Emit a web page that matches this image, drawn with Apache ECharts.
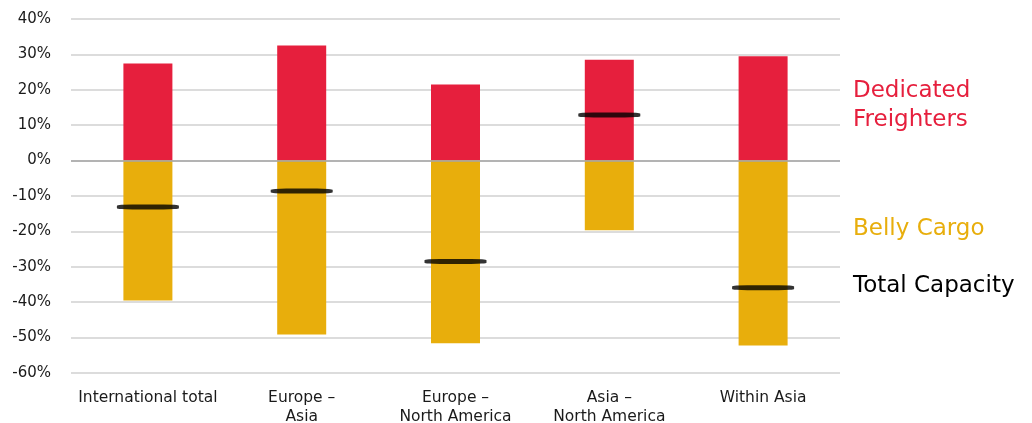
<!DOCTYPE html>
<html>
<head>
<meta charset="utf-8">
<script src="https://cdn.jsdelivr.net/npm/echarts@6/dist/echarts.min.js"></script>
<style>
  html, body { margin: 0; padding: 0; background: #ffffff; }
  #chart { width: 1032px; height: 423px; }
</style>
</head>
<body>
<div id="chart"></div>
<script>
// categories and values (in %)
const categories = ['International total', 'Europe –\nAsia', 'Europe –\nNorth America', 'Asia –\nNorth America', 'Within Asia'];
const freighters = [27.4, 32.5, 21.5, 28.5, 29.5];
const belly = [-39.5, -49.1, -51.6, -19.7, -52.2];
const totalCapacity = [-13.1, -8.6, -28.5, 12.9, -35.9];

const RED = '#E61F3D';
const YELLOW = '#E8AE0C';
const FONT = 'DejaVu Sans';

let myChart = echarts.init(document.getElementById('chart'));
myChart.setOption({
  animation: false,
  grid: { left: 71, right: 192, top: 19, bottom: 50, outerBoundsMode: 'none' },
  xAxis: {
    type: 'category',
    data: categories,
    axisLine: { show: false },
    axisTick: { show: false },
    axisLabel: { interval: 0, color: '#1a1a1a', fontFamily: FONT, fontSize: 15.5, lineHeight: 19, margin: 15 }
  },
  yAxis: {
    type: 'value',
    min: -60,
    max: 40,
    interval: 10,
    axisLine: { show: false },
    axisTick: { show: false },
    axisLabel: { color: '#1a1a1a', fontFamily: FONT, fontSize: 15, margin: 20, formatter: '{value}%' },
    splitLine: { lineStyle: { color: '#dcdcdc', width: 2 } }
  },
  series: [
    {
      name: 'Dedicated Freighters',
      type: 'bar',
      stack: 'cap',
      data: freighters,
      barWidth: 49,
      itemStyle: { color: RED },
      markLine: {
        silent: true,
        symbol: 'none',
        label: { show: false },
        lineStyle: { color: '#a6a6a6', width: 1.5, type: 'solid' },
        data: [{ yAxis: 0 }]
      }
    },
    {
      name: 'Belly Cargo',
      type: 'bar',
      stack: 'cap',
      data: belly,
      barWidth: 49,
      itemStyle: { color: YELLOW }
    },
    {
      name: 'Total Capacity',
      type: 'scatter',
      data: totalCapacity,
      symbol: 'roundRect',
      symbolSize: [62, 5],
      itemStyle: { color: '#000' },
      z: 5
    }
  ],
  graphic: [
    { type: 'text', left: 853, top: 77, style: { text: 'Dedicated\nFreighters', fill: RED, font: '23px ' + FONT, lineHeight: 29 } },
    { type: 'text', left: 853, top: 218, style: { text: 'Belly Cargo', fill: YELLOW, font: '23px ' + FONT } },
    { type: 'text', left: 853, top: 275, style: { text: 'Total Capacity', fill: '#000', font: '23px ' + FONT } }
  ]
});
</script>
</body>
</html>
